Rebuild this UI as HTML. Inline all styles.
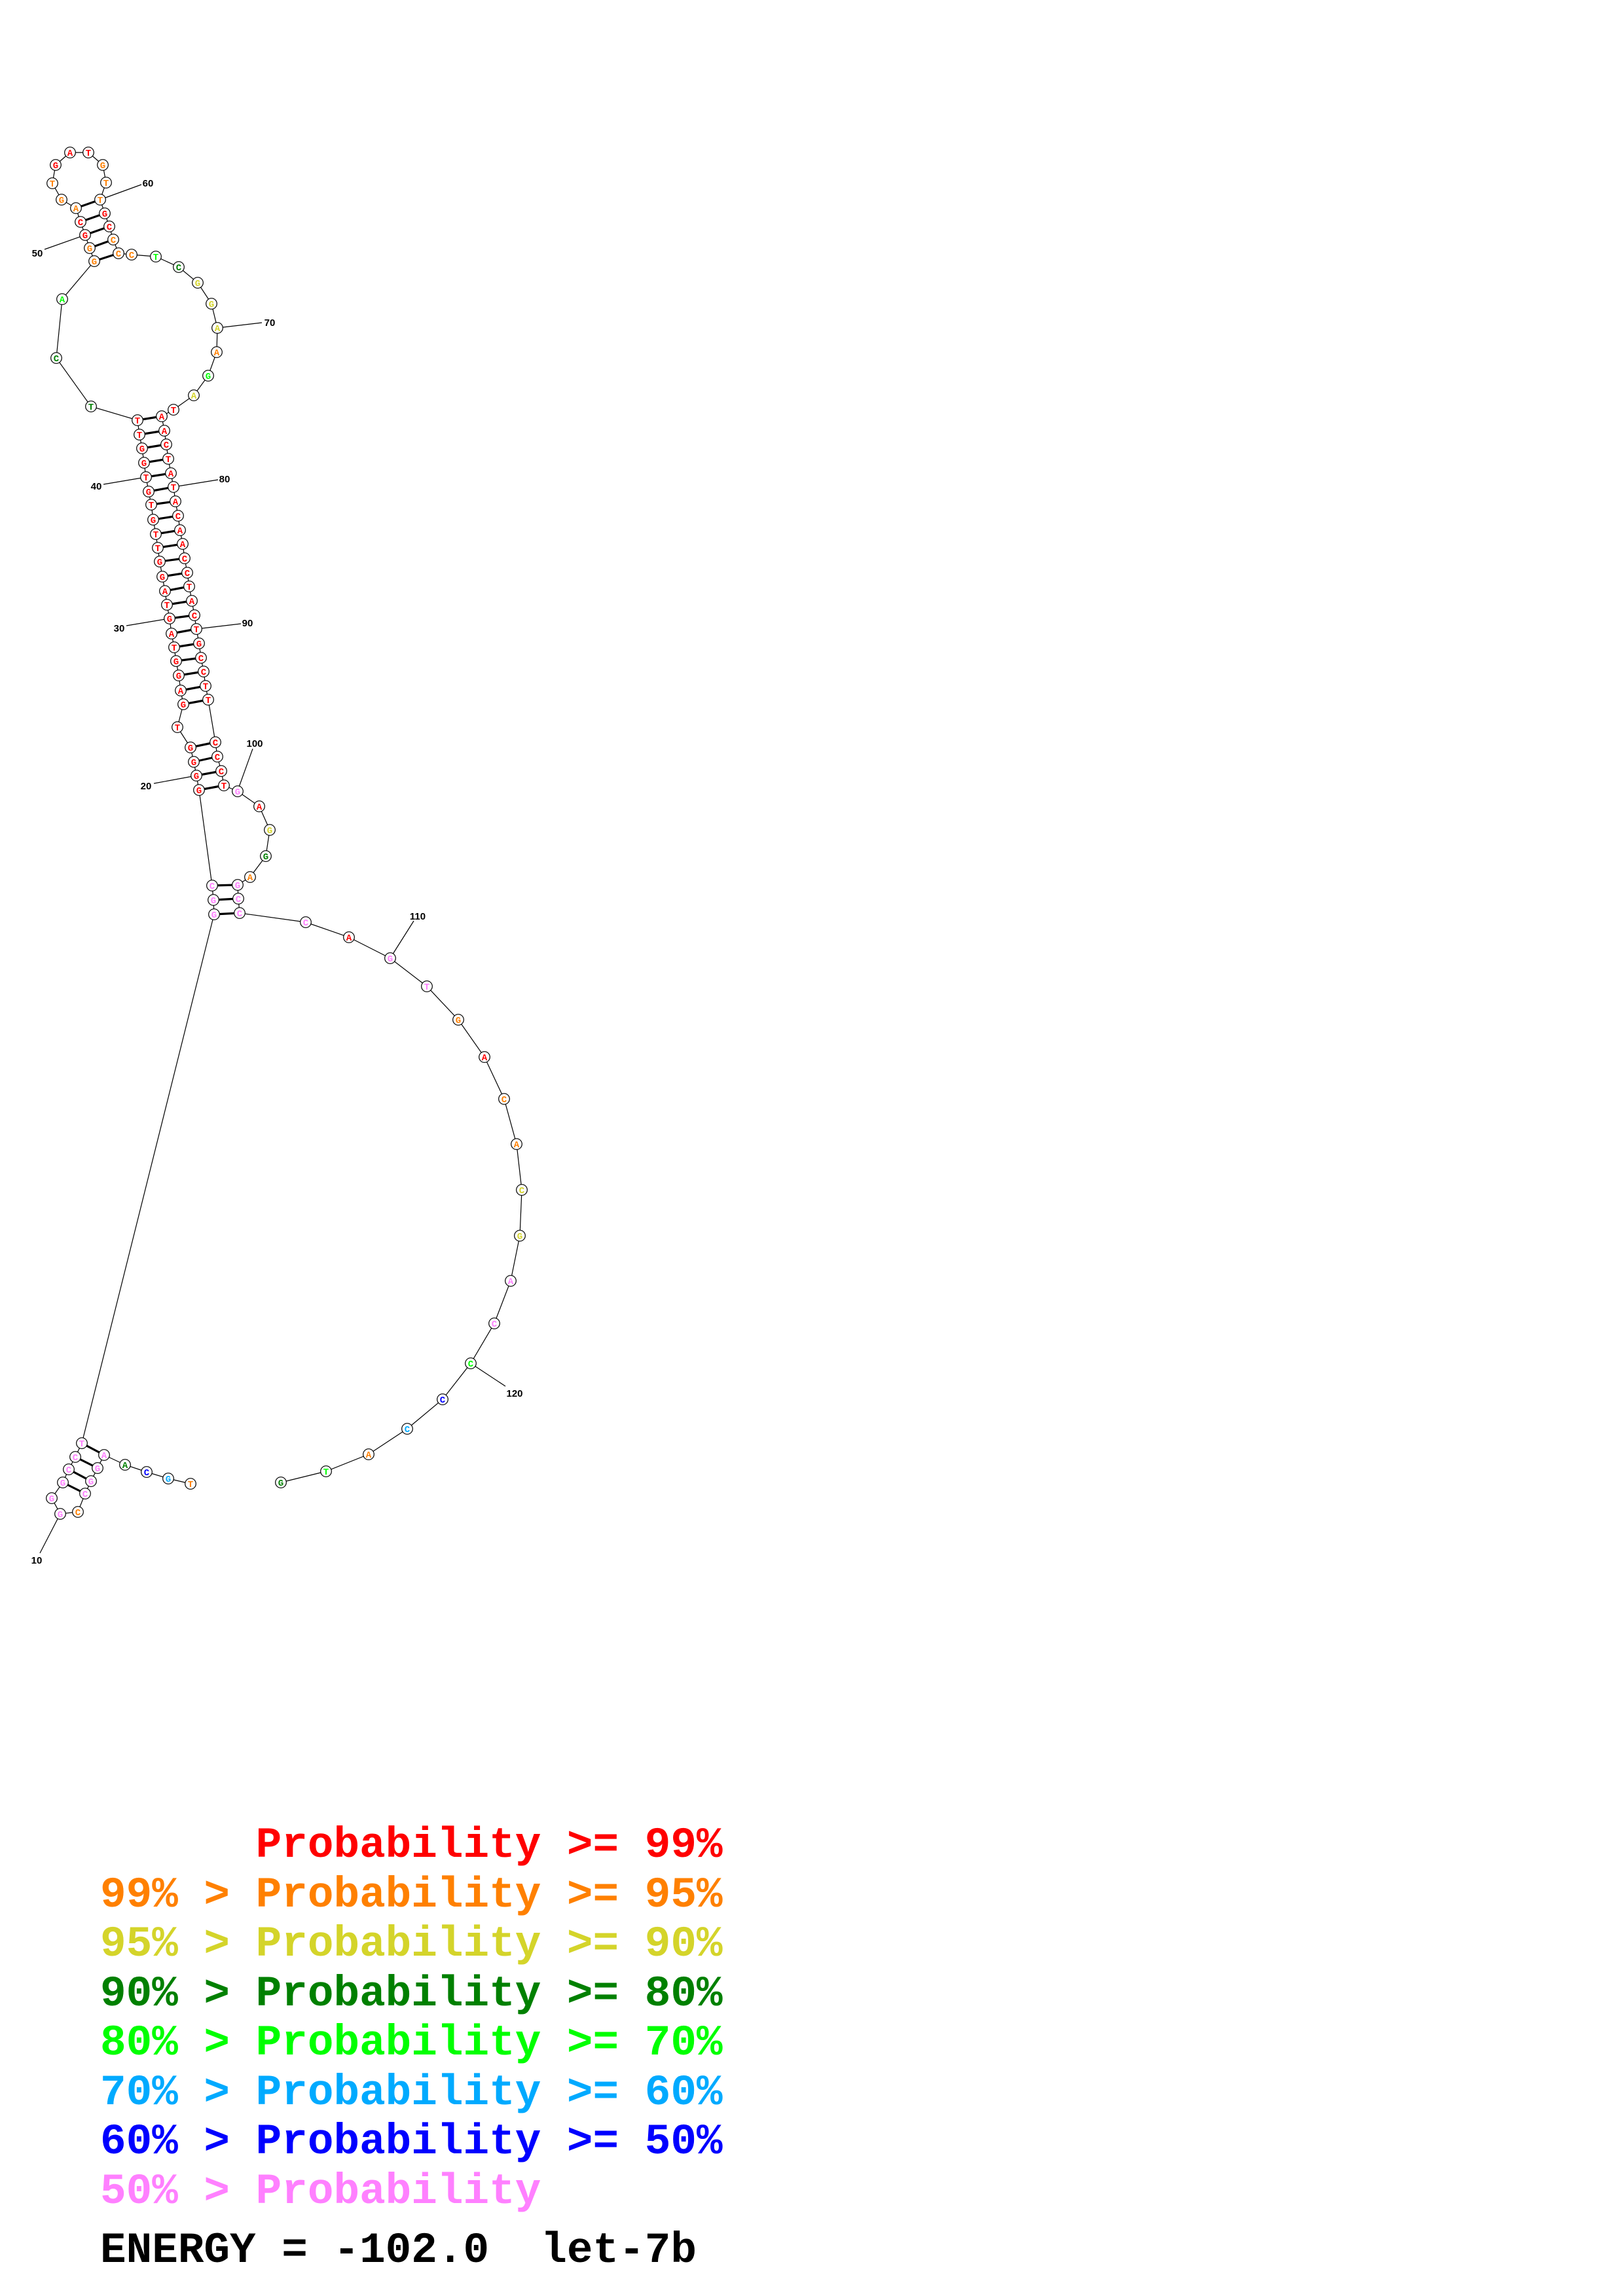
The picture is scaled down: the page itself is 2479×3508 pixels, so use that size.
<!DOCTYPE html>
<html><head><meta charset="utf-8"><style>
html,body{margin:0;padding:0;background:#fff}
svg{display:block}
.n circle{fill:#fff;stroke:#000;stroke-width:1.2}
.n text{font-family:"Liberation Mono",monospace;font-weight:bold;font-size:14px;text-anchor:middle}
.r{fill:#ff0000}.o{fill:#ff8000}.y{fill:#d4d42a}.d{fill:#008000}.l{fill:#00ff00}.s{fill:#00aaff}.b{fill:#0000ff}.p{fill:#ff80ff}
.lab{font-family:"Liberation Sans",sans-serif;font-weight:bold;font-size:15px;fill:#000;text-anchor:middle}
.leg{font-family:"Liberation Mono",monospace;font-weight:bold;font-size:66px;white-space:pre}
</style></head><body>
<svg width="2479" height="3508" viewBox="0 0 2479 3508" xmlns="http://www.w3.org/2000/svg">
<g fill="none" stroke="#000" stroke-width="1.2">
<polyline points="144,399 95,457 86,547 139,621 210,642"/>
<polyline points="144,399 137,379 130,359 123,339 116,318 94,305 80,280 85,252 107,233 135,233 157,252 162,279 153,305 160,326 167,346 173,366 181,387 201,389 238,392 273,408 302,432 323,464 332,501 331,538 318,574 296,604 265,626 247,636"/>
<polyline points="210,642 213,664 217,685 220,707 223,729 227,751 231,771 234,794 238,816 241,837 244,858 248,881 252,903 255,924 259,945 262,968 266,989 269,1010 273,1032 276,1055 280,1076 271,1111 291,1142 296,1164 300,1185 304,1207 324,1353 326,1375 327,1397 125,2205 115,2226 105,2245 96,2265 79,2289 92,2313 119,2310 130,2282 139,2263 149,2243 159,2223 191,2238 224,2249 257,2259 291,2267"/>
<polyline points="247,636 251,658 254,679 257,701 261,723 265,744 268,766 272,788 275,810 279,831 282,853 286,875 289,896 293,918 297,940 300,961 304,983 307,1005 311,1026 314,1048 318,1069 329,1134 332,1156 338,1178 342,1200 363,1209 396,1232 412,1268 406,1308 382,1340 363,1352 364,1373 366,1395 467,1409 533,1432 596,1464 652,1507 700,1558 740,1615 770,1679 789,1748 797,1818 794,1888 780,1957 755,2022 719,2083 676,2138 622,2183 563,2222 498,2248 429,2265"/>
<line x1="153" y1="305" x2="216" y2="282"/>
<line x1="130" y1="359" x2="68" y2="381"/>
<line x1="332" y1="501" x2="400" y2="493"/>
<line x1="158" y1="740" x2="223" y2="729"/>
<line x1="265" y1="744" x2="333" y2="733"/>
<line x1="193" y1="956" x2="259" y2="945"/>
<line x1="300" y1="961" x2="368" y2="953"/>
<line x1="363" y1="1208" x2="386" y2="1144"/>
<line x1="235" y1="1197" x2="300" y2="1185"/>
<line x1="596" y1="1464" x2="632" y2="1407"/>
<line x1="719" y1="2083" x2="772" y2="2118"/>
<line x1="92" y1="2313" x2="61" y2="2373"/>
</g>
<g stroke="#000" stroke-width="3.2">
<line x1="116" y1="318" x2="153" y2="305"/><line x1="123" y1="339" x2="160" y2="326"/><line x1="130" y1="359" x2="167" y2="346"/><line x1="137" y1="379" x2="173" y2="366"/><line x1="144" y1="399" x2="181" y2="387"/>
<line x1="210" y1="642" x2="247" y2="636"/><line x1="213" y1="664" x2="251" y2="658"/><line x1="217" y1="685" x2="254" y2="679"/><line x1="220" y1="707" x2="257" y2="701"/><line x1="223" y1="729" x2="261" y2="723"/><line x1="227" y1="751" x2="265" y2="744"/><line x1="231" y1="771" x2="268" y2="766"/><line x1="234" y1="794" x2="272" y2="788"/><line x1="238" y1="816" x2="275" y2="810"/><line x1="241" y1="837" x2="279" y2="831"/><line x1="244" y1="858" x2="282" y2="853"/><line x1="248" y1="881" x2="286" y2="875"/><line x1="252" y1="903" x2="289" y2="896"/><line x1="255" y1="924" x2="293" y2="918"/><line x1="259" y1="945" x2="297" y2="940"/><line x1="262" y1="968" x2="300" y2="961"/><line x1="266" y1="989" x2="304" y2="983"/><line x1="269" y1="1010" x2="307" y2="1005"/><line x1="273" y1="1032" x2="311" y2="1026"/><line x1="276" y1="1055" x2="314" y2="1048"/><line x1="280" y1="1076" x2="318" y2="1069"/>
<line x1="291" y1="1142" x2="329" y2="1134"/><line x1="296" y1="1164" x2="332" y2="1156"/><line x1="300" y1="1185" x2="338" y2="1178"/><line x1="304" y1="1207" x2="342" y2="1200"/>
<line x1="324" y1="1353" x2="363" y2="1352"/><line x1="326" y1="1375" x2="364" y2="1373"/><line x1="327" y1="1397" x2="366" y2="1395"/>
<line x1="125" y1="2205" x2="159" y2="2223"/><line x1="115" y1="2226" x2="149" y2="2243"/><line x1="105" y1="2245" x2="139" y2="2263"/><line x1="96" y1="2265" x2="130" y2="2282"/>
</g>
<g class="n">
<circle cx="107" cy="233" r="8.3"/><text x="107" y="238" class="r">A</text>
<circle cx="135" cy="233" r="8.3"/><text x="135" y="238" class="r">T</text>
<circle cx="85" cy="252" r="8.3"/><text x="85" y="257" class="r">G</text>
<circle cx="157" cy="252" r="8.3"/><text x="157" y="257" class="o">G</text>
<circle cx="80" cy="280" r="8.3"/><text x="80" y="285" class="o">T</text>
<circle cx="162" cy="279" r="8.3"/><text x="162" y="284" class="o">T</text>
<circle cx="94" cy="305" r="8.3"/><text x="94" y="310" class="o">G</text>
<circle cx="153" cy="305" r="8.3"/><text x="153" y="310" class="o">T</text>
<circle cx="116" cy="318" r="8.3"/><text x="116" y="323" class="o">A</text>
<circle cx="160" cy="326" r="8.3"/><text x="160" y="331" class="r">G</text>
<circle cx="123" cy="339" r="8.3"/><text x="123" y="344" class="r">C</text>
<circle cx="167" cy="346" r="8.3"/><text x="167" y="351" class="r">C</text>
<circle cx="130" cy="359" r="8.3"/><text x="130" y="364" class="r">G</text>
<circle cx="173" cy="366" r="8.3"/><text x="173" y="371" class="o">C</text>
<circle cx="137" cy="379" r="8.3"/><text x="137" y="384" class="o">G</text>
<circle cx="181" cy="387" r="8.3"/><text x="181" y="392" class="o">C</text>
<circle cx="144" cy="399" r="8.3"/><text x="144" y="404" class="o">G</text>
<circle cx="201" cy="389" r="8.3"/><text x="201" y="394" class="o">C</text>
<circle cx="238" cy="392" r="8.3"/><text x="238" y="397" class="l">T</text>
<circle cx="273" cy="408" r="8.3"/><text x="273" y="413" class="d">C</text>
<circle cx="302" cy="432" r="8.3"/><text x="302" y="437" class="y">G</text>
<circle cx="323" cy="464" r="8.3"/><text x="323" y="469" class="y">G</text>
<circle cx="332" cy="501" r="8.3"/><text x="332" y="506" class="y">A</text>
<circle cx="331" cy="538" r="8.3"/><text x="331" y="543" class="o">A</text>
<circle cx="318" cy="574" r="8.3"/><text x="318" y="579" class="l">G</text>
<circle cx="296" cy="604" r="8.3"/><text x="296" y="609" class="y">A</text>
<circle cx="265" cy="626" r="8.3"/><text x="265" y="631" class="r">T</text>
<circle cx="95" cy="457" r="8.3"/><text x="95" y="462" class="l">A</text>
<circle cx="86" cy="547" r="8.3"/><text x="86" y="552" class="d">C</text>
<circle cx="139" cy="621" r="8.3"/><text x="139" y="626" class="d">T</text>
<circle cx="210" cy="642" r="8.3"/><text x="210" y="647" class="r">T</text>
<circle cx="213" cy="664" r="8.3"/><text x="213" y="669" class="r">T</text>
<circle cx="217" cy="685" r="8.3"/><text x="217" y="690" class="r">G</text>
<circle cx="220" cy="707" r="8.3"/><text x="220" y="712" class="r">G</text>
<circle cx="223" cy="729" r="8.3"/><text x="223" y="734" class="r">T</text>
<circle cx="227" cy="751" r="8.3"/><text x="227" y="756" class="r">G</text>
<circle cx="231" cy="771" r="8.3"/><text x="231" y="776" class="r">T</text>
<circle cx="234" cy="794" r="8.3"/><text x="234" y="799" class="r">G</text>
<circle cx="238" cy="816" r="8.3"/><text x="238" y="821" class="r">T</text>
<circle cx="241" cy="837" r="8.3"/><text x="241" y="842" class="r">T</text>
<circle cx="244" cy="858" r="8.3"/><text x="244" y="863" class="r">G</text>
<circle cx="248" cy="881" r="8.3"/><text x="248" y="886" class="r">G</text>
<circle cx="252" cy="903" r="8.3"/><text x="252" y="908" class="r">A</text>
<circle cx="255" cy="924" r="8.3"/><text x="255" y="929" class="r">T</text>
<circle cx="259" cy="945" r="8.3"/><text x="259" y="950" class="r">G</text>
<circle cx="262" cy="968" r="8.3"/><text x="262" y="973" class="r">A</text>
<circle cx="266" cy="989" r="8.3"/><text x="266" y="994" class="r">T</text>
<circle cx="269" cy="1010" r="8.3"/><text x="269" y="1015" class="r">G</text>
<circle cx="273" cy="1032" r="8.3"/><text x="273" y="1037" class="r">G</text>
<circle cx="276" cy="1055" r="8.3"/><text x="276" y="1060" class="r">A</text>
<circle cx="280" cy="1076" r="8.3"/><text x="280" y="1081" class="r">G</text>
<circle cx="271" cy="1111" r="8.3"/><text x="271" y="1116" class="r">T</text>
<circle cx="291" cy="1142" r="8.3"/><text x="291" y="1147" class="r">G</text>
<circle cx="296" cy="1164" r="8.3"/><text x="296" y="1169" class="r">G</text>
<circle cx="300" cy="1185" r="8.3"/><text x="300" y="1190" class="r">G</text>
<circle cx="304" cy="1207" r="8.3"/><text x="304" y="1212" class="r">G</text>
<circle cx="247" cy="636" r="8.3"/><text x="247" y="641" class="r">A</text>
<circle cx="251" cy="658" r="8.3"/><text x="251" y="663" class="r">A</text>
<circle cx="254" cy="679" r="8.3"/><text x="254" y="684" class="r">C</text>
<circle cx="257" cy="701" r="8.3"/><text x="257" y="706" class="r">T</text>
<circle cx="261" cy="723" r="8.3"/><text x="261" y="728" class="r">A</text>
<circle cx="265" cy="744" r="8.3"/><text x="265" y="749" class="r">T</text>
<circle cx="268" cy="766" r="8.3"/><text x="268" y="771" class="r">A</text>
<circle cx="272" cy="788" r="8.3"/><text x="272" y="793" class="r">C</text>
<circle cx="275" cy="810" r="8.3"/><text x="275" y="815" class="r">A</text>
<circle cx="279" cy="831" r="8.3"/><text x="279" y="836" class="r">A</text>
<circle cx="282" cy="853" r="8.3"/><text x="282" y="858" class="r">C</text>
<circle cx="286" cy="875" r="8.3"/><text x="286" y="880" class="r">C</text>
<circle cx="289" cy="896" r="8.3"/><text x="289" y="901" class="r">T</text>
<circle cx="293" cy="918" r="8.3"/><text x="293" y="923" class="r">A</text>
<circle cx="297" cy="940" r="8.3"/><text x="297" y="945" class="r">C</text>
<circle cx="300" cy="961" r="8.3"/><text x="300" y="966" class="r">T</text>
<circle cx="304" cy="983" r="8.3"/><text x="304" y="988" class="r">G</text>
<circle cx="307" cy="1005" r="8.3"/><text x="307" y="1010" class="r">C</text>
<circle cx="311" cy="1026" r="8.3"/><text x="311" y="1031" class="r">C</text>
<circle cx="314" cy="1048" r="8.3"/><text x="314" y="1053" class="r">T</text>
<circle cx="318" cy="1069" r="8.3"/><text x="318" y="1074" class="r">T</text>
<circle cx="329" cy="1134" r="8.3"/><text x="329" y="1139" class="r">C</text>
<circle cx="332" cy="1156" r="8.3"/><text x="332" y="1161" class="r">C</text>
<circle cx="338" cy="1178" r="8.3"/><text x="338" y="1183" class="r">C</text>
<circle cx="342" cy="1200" r="8.3"/><text x="342" y="1205" class="r">T</text>
<circle cx="363" cy="1209" r="8.3"/><text x="363" y="1214" class="p">G</text>
<circle cx="396" cy="1232" r="8.3"/><text x="396" y="1237" class="r">A</text>
<circle cx="412" cy="1268" r="8.3"/><text x="412" y="1273" class="y">G</text>
<circle cx="406" cy="1308" r="8.3"/><text x="406" y="1313" class="d">G</text>
<circle cx="382" cy="1340" r="8.3"/><text x="382" y="1345" class="o">A</text>
<circle cx="363" cy="1352" r="8.3"/><text x="363" y="1357" class="p">G</text>
<circle cx="324" cy="1353" r="8.3"/><text x="324" y="1358" class="p">C</text>
<circle cx="326" cy="1375" r="8.3"/><text x="326" y="1380" class="p">G</text>
<circle cx="364" cy="1373" r="8.3"/><text x="364" y="1378" class="p">C</text>
<circle cx="327" cy="1397" r="8.3"/><text x="327" y="1402" class="p">G</text>
<circle cx="366" cy="1395" r="8.3"/><text x="366" y="1400" class="p">C</text>
<circle cx="467" cy="1409" r="8.3"/><text x="467" y="1414" class="p">C</text>
<circle cx="533" cy="1432" r="8.3"/><text x="533" y="1437" class="r">A</text>
<circle cx="596" cy="1464" r="8.3"/><text x="596" y="1469" class="p">G</text>
<circle cx="652" cy="1507" r="8.3"/><text x="652" y="1512" class="p">T</text>
<circle cx="700" cy="1558" r="8.3"/><text x="700" y="1563" class="o">G</text>
<circle cx="740" cy="1615" r="8.3"/><text x="740" y="1620" class="r">A</text>
<circle cx="770" cy="1679" r="8.3"/><text x="770" y="1684" class="o">C</text>
<circle cx="789" cy="1748" r="8.3"/><text x="789" y="1753" class="o">A</text>
<circle cx="797" cy="1818" r="8.3"/><text x="797" y="1823" class="y">C</text>
<circle cx="794" cy="1888" r="8.3"/><text x="794" y="1893" class="y">G</text>
<circle cx="780" cy="1957" r="8.3"/><text x="780" y="1962" class="p">A</text>
<circle cx="755" cy="2022" r="8.3"/><text x="755" y="2027" class="p">C</text>
<circle cx="719" cy="2083" r="8.3"/><text x="719" y="2088" class="l">C</text>
<circle cx="676" cy="2138" r="8.3"/><text x="676" y="2143" class="b">C</text>
<circle cx="622" cy="2183" r="8.3"/><text x="622" y="2188" class="s">C</text>
<circle cx="563" cy="2222" r="8.3"/><text x="563" y="2227" class="o">A</text>
<circle cx="498" cy="2248" r="8.3"/><text x="498" y="2253" class="l">T</text>
<circle cx="429" cy="2265" r="8.3"/><text x="429" y="2270" class="d">G</text>
<circle cx="125" cy="2205" r="8.3"/><text x="125" y="2210" class="p">T</text>
<circle cx="159" cy="2223" r="8.3"/><text x="159" y="2228" class="p">A</text>
<circle cx="115" cy="2226" r="8.3"/><text x="115" y="2231" class="p">C</text>
<circle cx="149" cy="2243" r="8.3"/><text x="149" y="2248" class="p">G</text>
<circle cx="105" cy="2245" r="8.3"/><text x="105" y="2250" class="p">C</text>
<circle cx="139" cy="2263" r="8.3"/><text x="139" y="2268" class="p">G</text>
<circle cx="96" cy="2265" r="8.3"/><text x="96" y="2270" class="p">G</text>
<circle cx="130" cy="2282" r="8.3"/><text x="130" y="2287" class="p">C</text>
<circle cx="79" cy="2289" r="8.3"/><text x="79" y="2294" class="p">G</text>
<circle cx="92" cy="2313" r="8.3"/><text x="92" y="2318" class="p">G</text>
<circle cx="119" cy="2310" r="8.3"/><text x="119" y="2315" class="o">C</text>
<circle cx="191" cy="2238" r="8.3"/><text x="191" y="2243" class="d">A</text>
<circle cx="224" cy="2249" r="8.3"/><text x="224" y="2254" class="b">C</text>
<circle cx="257" cy="2259" r="8.3"/><text x="257" y="2264" class="s">G</text>
<circle cx="291" cy="2267" r="8.3"/><text x="291" y="2272" class="o">T</text>
</g>
<g class="lab">
<text x="226" y="285">60</text>
<text x="57" y="392">50</text>
<text x="412" y="498">70</text>
<text x="147" y="748">40</text>
<text x="343" y="737">80</text>
<text x="182" y="965">30</text>
<text x="378" y="957">90</text>
<text x="389" y="1141">100</text>
<text x="223" y="1206">20</text>
<text x="638" y="1405">110</text>
<text x="786" y="2134">120</text>
<text x="56" y="2389">10</text>
</g>
<g class="leg" xml:space="preserve">
<text x="153" y="2837" fill="#ff0000" xml:space="preserve">      Probability &gt;= 99%</text>
<text x="153" y="2913" fill="#ff8000" xml:space="preserve">99% &gt; Probability &gt;= 95%</text>
<text x="153" y="2988" fill="#d4d42a" xml:space="preserve">95% &gt; Probability &gt;= 90%</text>
<text x="153" y="3064" fill="#008000" xml:space="preserve">90% &gt; Probability &gt;= 80%</text>
<text x="153" y="3139" fill="#00ff00" xml:space="preserve">80% &gt; Probability &gt;= 70%</text>
<text x="153" y="3215" fill="#00aaff" xml:space="preserve">70% &gt; Probability &gt;= 60%</text>
<text x="153" y="3290" fill="#0000ff" xml:space="preserve">60% &gt; Probability &gt;= 50%</text>
<text x="153" y="3366" fill="#ff80ff" xml:space="preserve">50% &gt; Probability</text>
<text x="153" y="3456" fill="#000" xml:space="preserve">ENERGY = -102.0  let-7b</text>
</g>
</svg>
</body></html>
